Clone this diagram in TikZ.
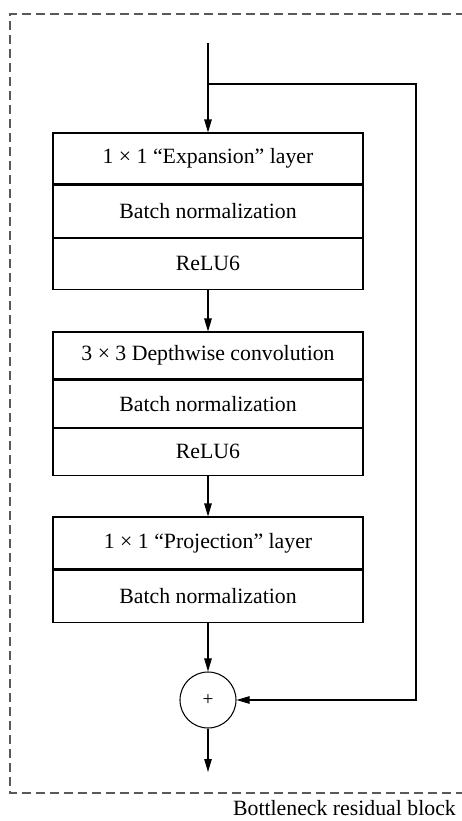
\documentclass[tikz,border=0pt]{standalone}
\usepackage{fontspec}
\setmainfont{Liberation Serif}
\usetikzlibrary{arrows.meta,positioning}

\begin{document}
\begin{tikzpicture}[
    layer/.style={rectangle, draw, line width=0.6pt, minimum width=6.2cm, inner sep=0pt, font=\fontsize{12.4}{15}\selectfont},
    arr/.style={-{Triangle[length=0.26cm,width=0.15cm]}, line width=0.6pt}
  ]
    \useasboundingbox (0,0) rectangle (9.24,-16.42);
    % dashed frame of the block
    \draw [dashed, dash pattern=on 0.18cm off 0.1cm, line width=0.6pt, black!65] (9.3,-0.28) -- (0.2,-0.28) -- (0.2,-15.86) -- (9.3,-15.86);
    \node[anchor=base east, font=\fontsize{12.4}{15}\selectfont] (title) at (9.24,-16.3) {Bottleneck residual block};

    % expansion
    \node[layer, minimum height=1.02cm] (exp) at (4.16,-3.17) {1 × 1 “Expansion” layer};
    \node[layer, minimum height=1.04cm, below=0pt of exp] (bn1) {Batch normalization};
    \node[layer, minimum height=1.02cm, below=0pt of bn1] (relu1) {ReLU6};
    % depthwise
    \node[layer, minimum height=0.94cm] (dw) at (4.16,-7.11) {3 × 3 Depthwise convolution};
    \node[layer, minimum height=0.94cm, below=0pt of dw] (bn2) {Batch normalization};
    \node[layer, minimum height=0.94cm, below=0pt of bn2] (relu2) {ReLU6};
    % projection
    \node[layer, minimum height=1.04cm] (proj) at (4.16,-10.86) {1 × 1 “Projection” layer};
    \node[layer, minimum height=1.04cm, below=0pt of proj] (bn3) {Batch normalization};

    \node[circle, draw, line width=0.6pt, minimum size=1.12cm, inner sep=0pt, font=\fontsize{11}{13}\selectfont] (plus) at (4.16,-14.0) {+};

    \coordinate (in) at (4.16,-0.86);
    \coordinate (split) at (4.16,-1.68);
    \coordinate (skip) at (8.32,-1.68);
    \coordinate (out) at (4.16,-15.44);

    \draw [arr] (in) -- (exp.north);
    \draw [arr] (relu1.south) -- (dw.north);
    \draw [arr] (relu2.south) -- (proj.north);
    \draw [arr] (bn3.south) -- (plus.north);
    \draw [arr] (plus.south) -- (out);
    \draw [arr] (split) -- (skip) |- (plus.east);
\end{tikzpicture}
\end{document}
